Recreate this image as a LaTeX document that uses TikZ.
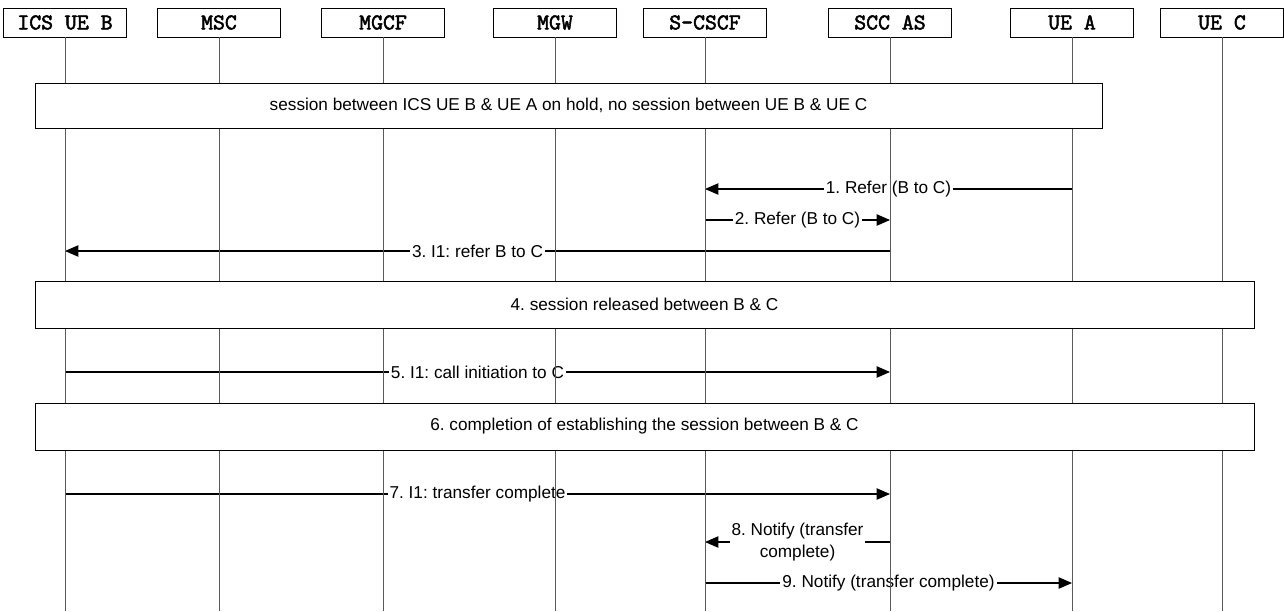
\documentclass[tikz,border=0pt]{standalone}
\usepackage{fontspec}
\setmainfont{Liberation Sans}
\newfontfamily\hdrfont{lmmono10-regular.otf}[AutoFakeBold=2.2]
\usetikzlibrary{positioning,arrows.meta}
\definecolor{lifegray}{HTML}{5A5A5A}
\frenchspacing

\begin{document}
\begin{tikzpicture}[x=0.75pt,y=-0.75pt,
  entity/.style={draw,fill=white,minimum width=92.25pt,minimum height=21.75pt,inner sep=0pt,
    font=\hdrfont\bfseries\fontsize{17}{18}\selectfont},
  life/.style={draw=lifegray,line width=0.6pt},
  phase/.style={draw,fill=white,line width=0.6pt},
  phasetext/.style={font=\fontsize{12.9}{15}\selectfont},
  msg/.style={line width=0.8pt,-{Triangle[length=10pt,width=8.5pt]}},
  lbl/.style={fill=white,inner xsep=1.5pt,inner ysep=0pt,align=center,
    font=\fontsize{12.9}{17}\selectfont}]
\useasboundingbox (0,0) rectangle (1284,611);
% entities
\node[entity] (ueb) at (65,22.5) {ICS UE B};
\node[entity] (msc) at (219,22.5) {MSC};
\node[entity] (mgcf) at (383,22.5) {MGCF};
\node[entity] (mgw) at (555,22.5) {MGW};
\node[entity] (scscf) at (705,22.5) {S-CSCF};
\node[entity] (sccas) at (890,22.5) {SCC AS};
\node[entity] (uea) at (1072,22.5) {UE A};
\node[entity] (uec) at (1222,22.5) {UE C};
\coordinate (bot) at (0,611);
% message rows
\coordinate (r1) at (0,189);
\coordinate (r2) at (0,220);
\coordinate (r3) at (0,251);
\coordinate (r5) at (0,372);
\coordinate (r7) at (0,494);
\coordinate (r8) at (0,542);
\coordinate (r9) at (0,583);
\draw[msg] (uea|-r1) -- node[lbl] {1. Refer (B to C)} (scscf|-r1);
\draw[msg] (scscf|-r2) -- node[lbl] {2. Refer (B to C)} (sccas|-r2);
\draw[msg] (sccas|-r3) -- node[lbl] {3. I1: refer B to C} (ueb|-r3);
\draw[msg] (ueb|-r5) -- node[lbl] {5. I1: call initiation to C} (sccas|-r5);
\draw[msg] (ueb|-r7) -- node[lbl] {7. I1: transfer complete} (sccas|-r7);
\draw[msg] (sccas|-r8) -- node[lbl] {8. Notify (transfer\\complete)} (scscf|-r8);
\draw[msg] (scscf|-r9) -- node[lbl] {9. Notify (transfer complete)} (uea|-r9);
% lifelines
\draw[life] (ueb.south) -- (ueb.south|-bot);
\draw[life] (msc.south) -- (msc.south|-bot);
\draw[life] (mgcf.south) -- (mgcf.south|-bot);
\draw[life] (mgw.south) -- (mgw.south|-bot);
\draw[life] (scscf.south) -- (scscf.south|-bot);
\draw[life] (sccas.south) -- (sccas.south|-bot);
\draw[life] (uea.south) -- (uea.south|-bot);
\draw[life] (uec.south) -- (uec.south|-bot);
% phases
\draw[phase] (35,83) rectangle (1102,128);
\node[phasetext] (ph1) at (568.5,105.5) {session between ICS UE B \& UE A on hold, no session between UE B \& UE C};
\draw[phase] (35,281) rectangle (1254,328);
\node[phasetext] (ph4) at (644.5,304.5) {4. session released between B \& C};
\draw[phase] (35,403) rectangle (1254,450);
\node[phasetext] (ph6) at (644.5,426.5) {6. completion of establishing the session between B \& C};
\end{tikzpicture}
\end{document}
